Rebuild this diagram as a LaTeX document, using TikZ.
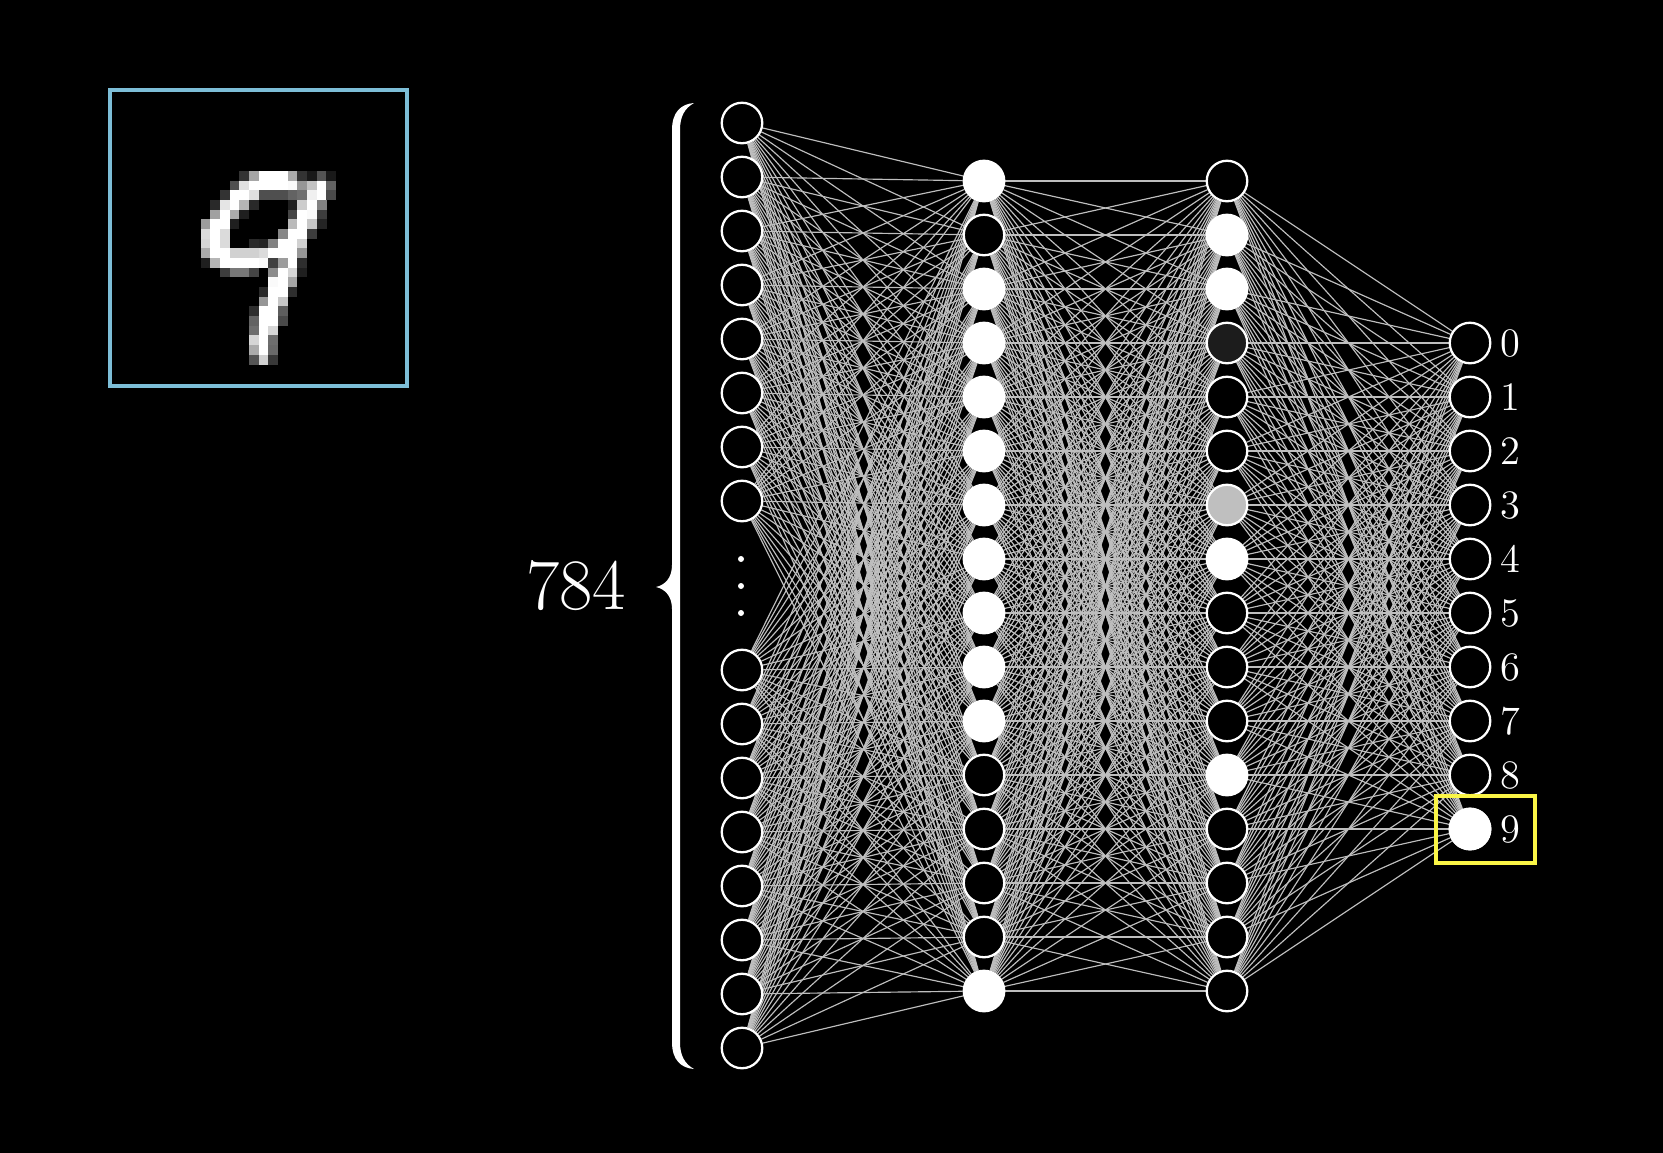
\documentclass[tikz,border=0pt]{standalone}
\usepackage{fontspec}
\usepackage{tikz}
\pgfdeclarelayer{canvas}
\pgfdeclarelayer{wires}
\pgfsetlayers{canvas,wires,main}
\definecolor{wiregray}{RGB}{190,190,190}
\definecolor{frameblue}{RGB}{125,190,215}
\definecolor{markyellow}{RGB}{250,245,70}

\tikzset{
  neuron/.style={circle, draw=white, line width=0.65pt, minimum size=4.05mm, inner sep=0pt, fill=black},
  wire/.style={wiregray, line width=0.33pt},
  digitlabel/.style={text=white, anchor=west, inner sep=0pt, font=\fontsize{11.5}{13}\selectfont},
}

\begin{document}
\begin{tikzpicture}[x=0.1mm, y=-0.1mm]

  \useasboundingbox (0,0) rectangle (1663,1153);
  \begin{pgfonlayer}{canvas}
    \fill[black] (0,0) rectangle (1663,1153);
  \end{pgfonlayer}

  % Input image (row/column/brightness)
  \foreach \r/\c/\v in {
      7/12/20, 7/13/65, 7/14/100, 7/15/100, 7/16/100, 7/17/67, 7/18/20, 7/19/10, 7/20/33, 7/21/10,
      8/11/31, 8/12/88, 8/13/100, 8/14/100, 8/15/100, 8/16/100, 8/17/98, 8/18/59, 8/19/76, 8/20/100, 8/21/39,
      9/10/20, 9/11/100, 9/12/100, 9/13/88, 9/14/31, 9/15/31, 9/16/31, 9/17/39, 9/18/43, 9/19/94, 9/20/100, 9/21/29,
      10/9/16, 10/10/90, 10/11/100, 10/12/71, 10/13/16, 10/17/12, 10/18/80, 10/19/100, 10/20/51,
      11/9/63, 11/10/100, 11/11/67, 11/12/12, 11/17/27, 11/18/100, 11/19/98, 11/20/24,
      12/8/61, 12/9/100, 12/10/100, 12/11/12, 12/17/73, 12/18/100, 12/19/78, 12/20/14,
      13/8/86, 13/9/100, 13/10/86, 13/16/53, 13/17/100, 13/18/100, 13/19/24,
      14/8/84, 14/9/100, 14/10/86, 14/13/16, 14/14/14, 14/15/51, 14/16/100, 14/17/100, 14/18/82,
      15/8/67, 15/9/100, 15/10/100, 15/11/82, 15/12/82, 15/13/82, 15/14/86, 15/15/100, 15/16/100, 15/17/100, 15/18/59,
      16/8/12, 16/9/71, 16/10/100, 16/11/100, 16/12/100, 16/13/100, 16/14/98, 16/15/25, 16/16/61, 16/17/100, 16/18/18,
      17/10/24, 17/11/47, 17/12/47, 17/13/27, 17/15/55, 17/16/100, 17/17/84, 17/18/12,
      18/15/98, 18/16/100, 18/17/65,
      19/14/16, 19/15/100, 19/16/100, 19/17/18,
      20/14/59, 20/15/100, 20/16/78,
      21/13/18, 21/14/100, 21/15/100, 21/16/37,
      22/13/39, 22/14/100, 22/15/100, 22/16/29,
      23/13/43, 23/14/100, 23/15/84,
      24/13/84, 24/14/100, 24/15/43,
      25/13/67, 25/14/100, 25/15/41,
      26/13/33, 26/14/82, 26/15/22}
    \fill[white!\v!black] ({123.3+9.67*\c},{103.3+9.67*\r}) rectangle ++(9.8,9.8);
  \draw[frameblue, line width=1pt] (110,90) rectangle (407,386);

  % Input layer
  \foreach \i in {1,...,8}
    \node[neuron] (inp\i) at (742,{123+54*(\i-1)}) {};
  \foreach \i in {9,...,16}
    \node[neuron] (inp\i) at (742,{670+54*(\i-9)}) {};
  \foreach \y in {559,586,613}
    \fill[white] (741,\y) circle (3);

  % Brace and count
  \fill[white] (694,103) .. controls (681,104) and (672,112) .. (672,130) -- (672,565)
    .. controls (672,578) and (665,585) .. (656,587)
    .. controls (665,589) and (672,596) .. (672,609) -- (672,1042)
    .. controls (672,1060) and (681,1068) .. (694,1069)
    .. controls (685,1064) and (680,1056) .. (680,1042) -- (680,130)
    .. controls (680,116) and (685,108) .. (694,103) -- cycle;
  \node[text=white, font=\fontsize{20.6}{24}\selectfont] (count) at (576,586) {784};

  % Hidden layers
  \foreach \i/\f in {1/white, 2/black, 3/white, 4/white, 5/white, 6/white, 7/white, 8/white,
                     9/white, 10/white, 11/white, 12/black, 13/black, 14/black, 15/black, 16/white}
    \node[neuron, fill=\f] (ha\i) at (984,{181+54*(\i-1)}) {};
  \foreach \i/\f in {1/black, 2/white, 3/white, 4/white!11!black, 5/black, 6/black, 7/white!75!black, 8/white,
                     9/black, 10/black, 11/black, 12/white, 13/black, 14/black, 15/black, 16/black}
    \node[neuron, fill=\f] (hb\i) at (1227,{181+54*(\i-1)}) {};

  % Output layer
  \foreach \k in {0,...,9} {
    \node[neuron] (out\k) at (1470,{343+54*\k}) {};
    \node[digitlabel] (lab\k) at (1500,{343+54*\k}) {\k};
  }
  \node[neuron, fill=white] at (out9) {};
  \draw[markyellow, line width=0.95pt] (1436,796) rectangle (1535,863);

  % Connections
  \begin{pgfonlayer}{wires}
    \foreach \i in {1,...,16}
      \foreach \j in {1,...,16}
        \draw[wire] (inp\i) -- (ha\j);
    \foreach \i in {1,...,16}
      \foreach \j in {1,...,16}
        \draw[wire] (ha\i) -- (hb\j);
    \foreach \i in {1,...,16}
      \foreach \k in {0,...,9}
        \draw[wire] (hb\i) -- (out\k);
  \end{pgfonlayer}

\end{tikzpicture}
\end{document}
